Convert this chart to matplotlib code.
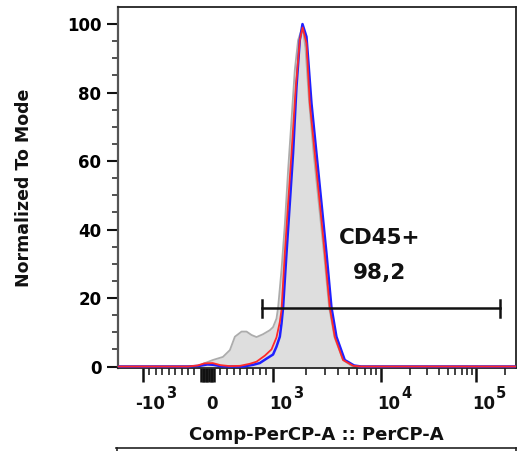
import numpy as np
import matplotlib
matplotlib.use("Agg")
import matplotlib.pyplot as plt
from matplotlib.lines import Line2D
from matplotlib import transforms

# ---------------- data ----------------
gray_x = [-1687, -270, -145, -38, 84, 237, 344, 420, 522, 598, 675, 751, 847, 954, 1005, 1081,
          1119, 1202, 1289, 1383, 1486, 1594, 1709, 1837, 1890, 2000, 2150, 2380, 2650, 2960,
          3300, 3700, 4430, 5400, 262144]
gray_y = [0, 0, 0.2, 1.0, 1.9, 2.8, 4.8, 8.7, 10.2, 10.2, 9.2, 8.6, 9.4, 10.6, 11.5, 14.0,
          17.3, 28.2, 41.3, 57.4, 72.0, 86.6, 95.3, 98.3, 98.5, 93.0, 78.0, 62.0, 47.7, 33.0,
          17.3, 8.5, 1.9, 0, 0]

red_x = [-1687, -300, -150, -50, 80, 200, 350, 500, 650, 750, 880, 980, 1081, 1160, 1202, 1289,
         1383, 1486, 1628, 1772, 1880, 2042, 2190, 2435, 2707, 3009, 3345, 3719, 4434, 5500,
         6500, 262144]
red_y = [0, 0, 0.3, 0.9, 1.0, 0.4, 0.1, 0.2, 0.8, 1.4, 3.2, 5.0, 8.5, 13.0, 16.5, 33.0,
         47.7, 62.3, 81.7, 95.3, 99.0, 94.4, 76.9, 62.3, 47.7, 33.1, 17.3, 8.7, 1.9, 0.2,
         0, 0]

blue_x = [-1687, -300, -120, 0, 90, 200, 350, 550, 700, 800, 904, 1005, 1081, 1160, 1202, 1244,
          1337, 1434, 1537, 1652, 1772, 1876, 2042, 2270, 2523, 2806, 3119, 3467, 3855, 4597,
          5600, 6500, 262144]
blue_y = [0, 0, 0.2, 0.6, 0.5, 0.1, 0, 0, 0.5, 1.0, 2.3, 3.5, 5.8, 8.7, 12.5, 17.3,
          33.1, 47.7, 62.3, 81.7, 95.3, 100.0, 96.3, 76.9, 62.3, 47.7, 33.1, 17.3, 8.7, 1.9,
          0.3, 0, 0]

gate_lo, gate_hi, gate_level = 828, 176000, 17.0
gate_name = "CD45+"
gate_value = "98,2"
gate_label_x = 9700

major_vals = [-1000, 0, 1000, 10000, 100000]
major_base = ["-10", "0", "10", "10", "10"]
major_exp = ["3", "", "3", "4", "5"]
y_ticks = [0, 20, 40, 60, 80, 100]

# ---------------- biexponential-like axis ----------------
U_ANCH = np.array([-5.0, -2.0, -1.0, 0.0, 1.0, 2.0, 3.0, 6.0])
P_ANCH = np.array([-292.0, 34.0, 142.7, 207.5, 273.0, 381.7, 476.7, 761.7])


def _to_u(v):
    v = np.asarray(v, dtype=float)
    a = np.abs(v)
    lg = 1 + np.log10(np.maximum(a, 1000.0) / 1000.0)
    return np.where(a <= 1000, v / 1000.0, np.sign(v) * lg)


def fwd(v):
    return np.interp(_to_u(v), U_ANCH, P_ANCH)


def inv(p):
    u = np.interp(np.asarray(p, dtype=float), P_ANCH, U_ANCH)
    a = np.abs(u)
    return np.where(a <= 1, u * 1000.0, np.sign(u) * 1000.0 * 10 ** (np.maximum(a, 1) - 1))


plt.rcParams['font.family'] = ['DejaVu Sans']
plt.rcParams['font.weight'] = 'bold'

W, H = 522, 451
fig = plt.figure(figsize=(W / 100, H / 100), dpi=100)
L, R, T, B = 118, 516, 7.3, 367.7
ax = fig.add_axes([L / W, 1 - B / H, (R - L) / W, (B - T) / H])
ax.set_xscale('function', functions=(fwd, inv))
ax.set_xlim(float(inv(118)), 262144)
ax.set_ylim(-0.35, 104.9)

ax.fill_between(gray_x, gray_y, 0, color='#dedede', lw=0, zorder=1)
ax.plot(gray_x, gray_y, color='#acacac', lw=1.3, zorder=2)
ax.plot(blue_x, blue_y, color='#2020ff', lw=1.8, zorder=3)
ax.plot(red_x, red_y, color='#ff2a2a', lw=1.3, zorder=4)

# gate
ax.plot([gate_lo, gate_hi], [gate_level, gate_level], color='#111111', lw=1.8, zorder=5)
for gx in (gate_lo, gate_hi):
    ax.plot([gx, gx], [gate_level - 2.4, gate_level + 2.4], color='#111111', lw=1.8, zorder=5)
ax.text(gate_label_x, 37.5, gate_name, ha='center', va='center', fontsize=15.5,
        fontweight='bold', color='#111111')
ax.text(gate_label_x, 27.3, gate_value, ha='center', va='center', fontsize=15.5,
        fontweight='bold', color='#111111')

# spines
for s in ('left', 'right', 'top', 'bottom'):
    ax.spines[s].set_linewidth(1.3)
    ax.spines[s].set_color('#222222')
ax.spines['left'].set_color('#555555')
ax.spines['left'].set_linewidth(1.6)

# y ticks
ax.set_yticks(y_ticks)
ax.set_yticks(np.arange(0, 101, 5), minor=True)
ax.tick_params(axis='y', which='major', length=8, width=1.5, pad=4, labelsize=12,
               color='#111111')
ax.tick_params(axis='y', which='minor', length=4, width=1.2, color='#333333')
for lab in ax.get_yticklabels():
    lab.set_fontweight('bold')

# x ticks
zero_cluster = [-100, -75, -50, -25, 25, 50, 75, 100]
ax.set_xticks(major_vals + zero_cluster)
ax.set_xticklabels([""] * (len(major_vals) + len(zero_cluster)))
minors = list(range(-900, -100, 100)) + list(range(200, 1000, 100)) + \
    list(range(2000, 10000, 1000)) + list(range(20000, 100000, 10000)) + [200000]
ax.set_xticks(minors, minor=True)
ax.tick_params(axis='x', which='major', length=10, width=1.8, color='#111111')
ax.tick_params(axis='x', which='minor', length=5, width=1.2, color='#222222')

fig.text(24 / W, 1 - 188 / H, "Normalized To Mode", rotation=90, ha='center', va='center',
         fontsize=12.5, fontweight='bold', color='#111111')

fig.text(316 / W, 1 - 435 / H, "Comp-PerCP-A :: PerCP-A", ha='center', va='center',
         fontsize=13, fontweight='bold', color='#111111')

# x tick labels (base + raised exponent)
fig.canvas.draw()
rend = fig.canvas.get_renderer()
xt = ax.get_xaxis_transform()
for v, b, e in zip(major_vals, major_base, major_exp):
    dx = 5 if e == "" else 7.5
    tb = ax.text(v, 0, b, ha='center', va='center', fontsize=12, fontweight='bold',
                 color='#111111',
                 transform=transforms.offset_copy(xt, fig, x=dx, y=-36.5, units='dots'))
    if e:
        bb = tb.get_window_extent(rend)
        fig.text(bb.x1 + 1, (H - B) - 25.5, e, ha='left', va='center', fontsize=10.5,
                 fontweight='bold', color='#111111', transform=None)

# frame of the panel below (cut off)
fig.add_artist(Line2D([116 / W, 516 / W], [1 - 448.3 / H, 1 - 448.3 / H], color='#222222', lw=1.2))
fig.add_artist(Line2D([117 / W, 117 / W], [1 - 448.3 / H, 0], color='#222222', lw=1.2))
fig.add_artist(Line2D([515.5 / W, 515.5 / W], [1 - 448.3 / H, 0], color='#222222', lw=1.2))

fig.savefig("out.png", dpi=100)
